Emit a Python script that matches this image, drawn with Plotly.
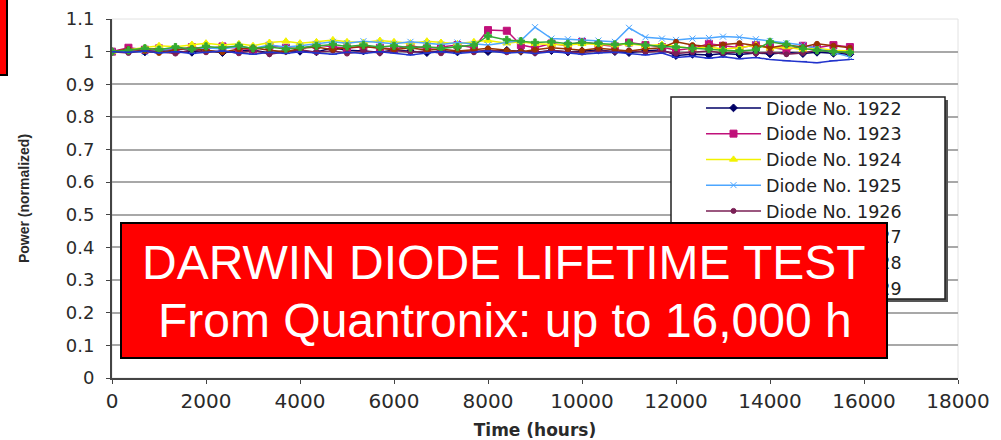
import plotly.graph_objects as go

hours = [0, 350, 700, 1000, 1350, 1700, 2000, 2350,
         2700, 3000, 3350, 3700, 4000, 4350, 4700, 5000,
         5350, 5700, 6000, 6350, 6700, 7000, 7350, 7700,
         8000, 8400, 8700, 9000, 9350, 9700, 10000, 10350,
         10700, 11000, 11350, 11700, 12000, 12350, 12700, 13000,
         13350, 13700, 14000, 14350, 14700, 15000, 15350, 15700]

d1922 = [1.000, 1.003, 0.999, 1.002, 1.001, 0.998, 1.004, 0.997,
         1.002, 1.005, 0.996, 1.003, 1.001, 0.999, 1.012, 1.004,
         1.002, 0.998, 1.005, 1.001, 0.997, 1.003, 0.999, 1.002,
         1.000, 1.004, 1.001, 0.998, 1.003, 0.999, 1.002, 1.005,
         1.000, 0.997, 1.002, 1.006, 0.988, 0.992, 0.990, 0.994,
         0.991, 0.996, 0.993, 0.997, 0.994, 0.998, 0.995, 0.992]
d1923 = [1.000, 1.012, 1.006, 1.010, 1.004, 1.014, 1.008, 1.016,
         1.010, 1.006, 1.018, 1.012, 1.008, 1.020, 1.014, 1.010,
         1.016, 1.012, 1.008, 1.018, 1.010, 1.014, 1.020, 1.012,
         1.066, 1.064, 1.020, 1.012, 1.025, 1.018, 1.030, 1.022,
         1.016, 1.028, 1.020, 1.014, 1.004, 1.010, 1.024, 1.018,
         1.012, 1.020, 1.014, 1.006, 1.018, 1.012, 1.020, 1.014]
d1924 = [1.000, 1.006, 1.012, 1.018, 1.015, 1.022, 1.026, 1.020,
         1.024, 1.018, 1.028, 1.032, 1.026, 1.030, 1.036, 1.030,
         1.028, 1.034, 1.030, 1.026, 1.032, 1.028, 1.024, 1.030,
         1.034, 1.026, 1.030, 1.024, 1.022, 1.020, 1.024, 1.022,
         1.020, 1.024, 1.018, 1.022, 1.016, 1.010, 1.014, 1.008,
         1.012, 1.020, 1.010, 1.014, 1.006, 1.010, 1.004, 1.002]
d1925 = [1.000, 1.002, 0.998, 1.006, 1.010, 1.004, 1.012, 1.008,
         1.016, 1.010, 1.020, 1.014, 1.018, 1.024, 1.030, 1.026,
         1.032, 1.028, 1.024, 1.030, 1.026, 1.022, 1.028, 1.024,
         1.020, 1.028, 1.034, 1.075, 1.040, 1.038, 1.036, 1.034,
         1.030, 1.073, 1.044, 1.040, 1.036, 1.040, 1.042, 1.046,
         1.044, 1.038, 1.032, 1.026, 1.020, 1.010, 0.998, 0.984]
d1926 = [1.000, 0.996, 1.004, 1.000, 0.994, 1.006, 0.998, 1.002,
         0.995, 1.004, 0.992, 1.000, 1.006, 0.998, 1.003, 0.994,
         1.002, 0.996, 1.004, 0.998, 1.002, 0.995, 1.004, 0.998,
         1.006, 0.998, 1.002, 0.996, 1.004, 1.000, 0.997, 1.003,
         1.000, 1.004, 0.998, 1.002, 0.994, 0.998, 1.002, 0.996,
         1.000, 0.994, 0.998, 0.992, 0.996, 1.004, 1.000, 0.996]
d1927 = [1.000, 1.008, 1.002, 0.996, 1.006, 1.010, 1.004, 0.998,
         1.008, 1.012, 1.004, 1.000, 1.010, 1.014, 1.006, 1.012,
         1.016, 1.010, 1.006, 1.012, 1.004, 1.008, 1.002, 1.006,
         1.010, 1.004, 1.000, 1.006, 1.012, 1.008, 1.004, 1.010,
         1.006, 1.002, 1.008, 1.012, 1.030, 1.020, 1.016, 1.022,
         1.026, 1.018, 1.012, 1.020, 1.014, 1.024, 1.018, 1.012]
d1928 = [1.000, 1.004, 1.010, 1.006, 1.014, 1.008, 1.016, 1.012,
         1.018, 1.010, 1.014, 1.008, 1.012, 1.018, 1.022, 1.016,
         1.020, 1.014, 1.018, 1.012, 1.016, 1.010, 1.014, 1.020,
         1.048, 1.036, 1.032, 1.028, 1.030, 1.024, 1.028, 1.026,
         1.022, 1.026, 1.020, 1.016, 1.014, 1.010, 1.008, 1.004,
         1.002, 1.006, 1.030, 1.022, 1.010, 1.004, 1.000, 0.998]
d1929 = [1.000, 0.998, 1.002, 0.996, 1.000, 0.994, 0.998, 1.002,
         0.996, 0.992, 0.998, 0.994, 1.000, 0.996, 0.992, 0.998,
         0.994, 1.000, 0.996, 0.990, 0.996, 1.000, 0.994, 0.998,
         1.002, 0.996, 0.998, 0.994, 1.000, 0.996, 0.992, 0.996,
         0.998, 0.994, 0.990, 0.996, 0.982, 0.986, 0.980, 0.984,
         0.978, 0.982, 0.976, 0.972, 0.970, 0.966, 0.972, 0.976]

series_names = ["Diode No. 1922", "Diode No. 1923", "Diode No. 1924", "Diode No. 1925",
                "Diode No. 1926", "Diode No. 1927", "Diode No. 1928", "Diode No. 1929"]
series_values = [d1922, d1923, d1924, d1925, d1926, d1927, d1928, d1929]
colors = ["#000066", "#c0107a", "#f2f200", "#4da6ff", "#7a1f55", "#993300", "#33aa33", "#2233cc"]
symbols = ["diamond", "square", "triangle-up", "x-thin", "circle", "circle", "cross", "line-ew"]
msizes = [6, 7, 7, 6, 5, 5, 6, 6]

x_ticks = [0, 2000, 4000, 6000, 8000, 10000, 12000, 14000, 16000, 18000]
y_ticks = [0, 0.1, 0.2, 0.3, 0.4, 0.5, 0.6, 0.7, 0.8, 0.9, 1, 1.1]
y_ticktext = ["0", "0.1", "0.2", "0.3", "0.4", "0.5", "0.6", "0.7", "0.8", "0.9", "1", "1.1"]

fig = go.Figure()
for name, vals, c, s, ms in zip(series_names, series_values, colors, symbols, msizes):
    fig.add_trace(go.Scatter(
        x=hours, y=vals, name=name, mode="lines+markers",
        line=dict(color=c, width=1.5),
        marker=dict(color=c, symbol=s, size=ms, line=dict(color=c, width=1)),
        legendgroup=name,
    ))

# helpers: paper coords from pixel
L, R, T, B = 112, 43, 19, 62
W, H = 1001, 440
PW, PH = W - L - R, H - T - B
def px(x):
    return (x - L) / PW
def py(y):
    return (H - B - y) / PH

shapes = [
    # faint plot frame
    dict(type="rect", xref="paper", yref="paper", x0=0, x1=1, y0=0, y1=1,
         line=dict(color="#e2e2e2", width=1), layer="below"),
    # legend shadow + box
    dict(type="rect", xref="paper", yref="paper", x0=px(674), x1=px(948), y0=py(302), y1=py(100),
         fillcolor="#555555", line=dict(width=0), layer="above"),
    dict(type="rect", xref="paper", yref="paper", x0=px(671), x1=px(945), y0=py(299), y1=py(97),
         fillcolor="white", line=dict(color="#222222", width=1.5), layer="above"),
    # red fragment top-left
    dict(type="rect", xref="paper", yref="paper", x0=px(-10), x1=px(7), y0=py(75), y1=py(-10),
         fillcolor="#ff0000", line=dict(color="black", width=2), layer="above"),
]

annotations = [
    dict(xref="paper", yref="paper", x=px(504), y=py(290), xanchor="center", yanchor="middle",
         text=" ", showarrow=False, width=764, height=133, bgcolor="#ff0000",
         bordercolor="black", borderwidth=2, borderpad=0),
    dict(xref="paper", yref="paper", x=px(504), y=py(262), xanchor="center", yanchor="middle",
         text="DARWIN DIODE LIFETIME TEST", showarrow=False,
         font=dict(family="Arial, Liberation Sans, sans-serif", size=48, color="white")),
    dict(xref="paper", yref="paper", x=px(505), y=py(320), xanchor="center", yanchor="middle",
         text="From Quantronix: up to 16,000 h", showarrow=False,
         font=dict(family="Arial, Liberation Sans, sans-serif", size=48, color="white")),
]

fig.update_layout(
    width=W, height=H,
    margin=dict(l=L, r=R, t=T, b=B, autoexpand=False),
    paper_bgcolor="white", plot_bgcolor="white",
    showlegend=True,
    legend=dict(x=px(701), y=py(90), xanchor="left", yanchor="top",
                bgcolor="rgba(0,0,0,0)", borderwidth=0,
                font=dict(family="DejaVu Sans, sans-serif", size=17.5, color="#222222"),
                itemwidth=55, tracegroupgap=0, itemclick=False),
    shapes=shapes, annotations=annotations,
    xaxis=dict(range=[0, 18000], tickvals=x_ticks, ticktext=[str(v) for v in x_ticks],
               showgrid=False, zeroline=False, showline=True, linecolor="#444444", linewidth=2,
               ticks="outside", ticklen=4, tickcolor="#444444", ticklabelstandoff=0,
               automargin=False,
               tickfont=dict(family="DejaVu Sans, sans-serif", size=20, color="#2a2a2a"),
               title=dict(text="<b>Time (hours)</b>", standoff=14,
                          font=dict(family="DejaVu Sans, sans-serif", size=17, color="#2a2a2a"))),
    yaxis=dict(range=[0, 1.1], tickvals=y_ticks, ticktext=y_ticktext,
               showgrid=True, gridcolor="#a8a8a8", gridwidth=2, zeroline=False,
               showline=True, linecolor="#444444", linewidth=2,
               ticks="outside", ticklen=4, tickcolor="#444444", ticklabelstandoff=8,
               automargin=False,
               tickfont=dict(family="DejaVu Sans, sans-serif", size=18, color="#2a2a2a"),
               title=dict(text="<b>Power (normalized)</b>", standoff=33,
                          font=dict(family="Arial, Liberation Sans, sans-serif", size=14, color="#2a2a2a"))),
)

fig.write_html("out.html", config={"displayModeBar": False},
               post_script="document.body.style.margin='0';")
